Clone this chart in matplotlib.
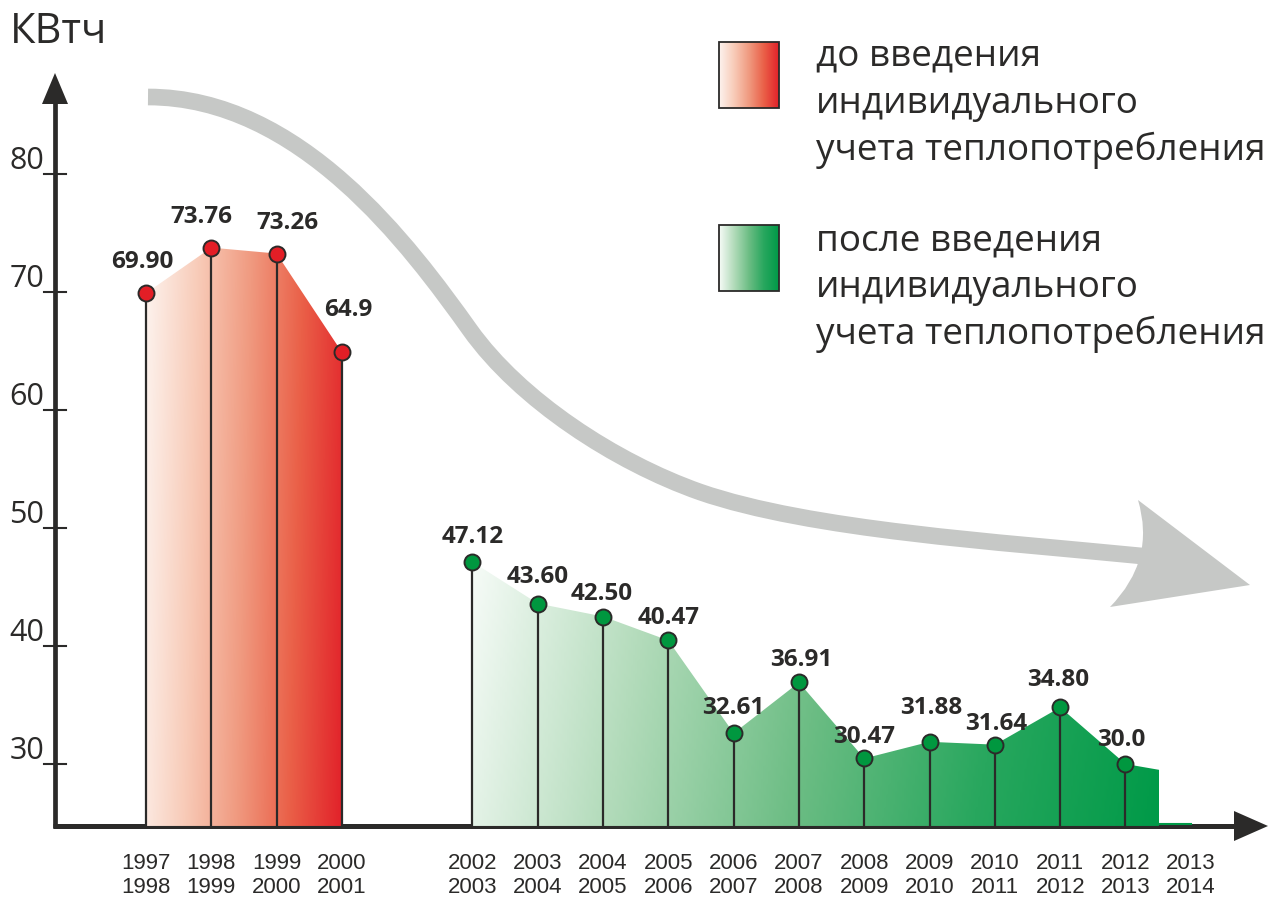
import numpy as np
import matplotlib
matplotlib.use("Agg")
import matplotlib.pyplot as plt
from matplotlib.colors import LinearSegmentedColormap
from matplotlib.path import Path
from matplotlib.patches import PathPatch, Polygon, Rectangle

plt.rcParams["font.family"] = ["Open Sans", "DejaVu Sans"]

# данные
before_seasons = ["1997\n1998", "1998\n1999", "1999\n2000", "2000\n2001"]
before_values = [69.90, 73.76, 73.26, 64.9]
before_labels = ["69.90", "73.76", "73.26", "64.9"]

after_seasons = ["2002\n2003", "2003\n2004", "2004\n2005", "2005\n2006",
                 "2006\n2007", "2007\n2008", "2008\n2009", "2009\n2010",
                 "2010\n2011", "2011\n2012", "2012\n2013", "2013\n2014"]
after_values = [47.12, 43.60, 42.50, 40.47, 32.61, 36.91, 30.47, 31.88,
                31.64, 34.80, 30.0]
after_labels = ["47.12", "43.60", "42.50", "40.47", "32.61", "36.91",
                "30.47", "31.88", "31.64", "34.80", "30.0"]
tail_value = 29.5  # неполный сезон 2013/2014 (только заливка)

y_ticks = [30, 40, 50, 60, 70, 80]
base = 24.75

# сдвиги подписей значений (пиксели)
before_offsets = [(-4, 25), (-10, 25), (11, 25), (6, 36)]
after_offsets = [(0, 19), (0, 21), (-1, 17), (0, 16), (0, 19), (2, 16),
                 (0, 15), (2, 28), (1, 15), (-2, 21), (-4, 18)]

W, H = 1268, 898
fig = plt.figure(figsize=(W / 100, H / 100), dpi=100)

# фон с декоративными элементами в пикселях
deco = fig.add_axes([0, 0, 1, 1])
deco.set_xlim(0, W)
deco.set_ylim(H, 0)
deco.axis("off")

# оси данных
x0, dx = 146, 65.3
y30, dy = 764, 11.8
ax = fig.add_axes([0, 0, 1, 1])
ax.set_xlim(-x0 / dx, (W - x0) / dx)
ax.set_ylim(30 - (H - y30) / dy, 30 + y30 / dy)
ax.axis("off")
ax.patch.set_alpha(0)

dark = "#2b2a29"
gray = "#c6c8c6"

# серая стрелка
band = Path([(148, 97), (300, 97), (410, 246), (470, 330),
             (520, 400), (615, 462), (700, 492),
             (810, 530), (1000, 542), (1142, 556)],
            [Path.MOVETO, Path.CURVE4, Path.CURVE4, Path.CURVE4,
             Path.CURVE4, Path.CURVE4, Path.CURVE4,
             Path.CURVE4, Path.CURVE4, Path.CURVE4])
deco.add_patch(PathPatch(band, facecolor="none", edgecolor=gray, lw=12,
                         capstyle="butt"))
head = Path([(1138, 500), (1250, 585), (1110, 607), (1156, 560), (1138, 500)],
            [Path.MOVETO, Path.LINETO, Path.LINETO, Path.CURVE3, Path.CURVE3])
deco.add_patch(PathPatch(head, facecolor=gray, edgecolor="none"))

red_cmap = LinearSegmentedColormap.from_list(
    "red", ["#fdf3ee", "#f8cbb8", "#f09a80", "#ea6048", "#e2222a"])
green_cmap = LinearSegmentedColormap.from_list(
    "green", ["#f6fbf7", "#b2dbba", "#6cbd84", "#28a75e", "#009a48"])


def gradient_fill(axis, xs, ys, cmap, top):
    verts = [(xs[0], base)] + list(zip(xs, ys)) + [(xs[-1], base)]
    poly = Polygon(verts, closed=True, facecolor="none", edgecolor="none")
    axis.add_patch(poly)
    gx, gy = np.meshgrid(np.linspace(0, 1, 300), np.linspace(0, 1, 100))
    z = np.clip(gx * 0.93 + (1 - gy) * 0.07, 0, 1)
    im = axis.imshow(z, extent=[xs[0], xs[-1], base, top], origin="lower",
                     cmap=cmap, aspect="auto", interpolation="bilinear",
                     zorder=1)
    im.set_clip_path(poly)


bx = np.arange(len(before_seasons))
ax_x = np.arange(len(after_seasons)) + len(before_seasons) + 1
gx_fill = list(ax_x[:len(after_values)]) + [ax_x[len(after_values) - 1] + 0.52]
gy_fill = list(after_values) + [tail_value]

gradient_fill(ax, list(bx), before_values, red_cmap, max(before_values))
gradient_fill(ax, gx_fill, gy_fill, green_cmap, max(after_values))
ax.plot([gx_fill[-1], ax_x[-1]], [base + 0.2, base + 0.2], color="#009a48",
        lw=1.5, zorder=1)

# стебли и маркеры
for xs, vals, col in [(bx, before_values, "#e31e26"),
                      (ax_x[:len(after_values)], after_values, "#00973f")]:
    ax.vlines(xs, base, vals, color=dark, lw=1.6, zorder=2)
    ax.plot(xs, vals, "o", ms=11.5, mfc=col, mec=dark, mew=1.4, zorder=4)

for xs, vals, labs, offs in [(bx, before_values, before_labels, before_offsets),
                             (ax_x, after_values, after_labels, after_offsets)]:
    for x, v, lab, (ox, oy) in zip(xs, vals, labs, offs):
        ax.annotate(lab, (x, v), xytext=(ox, oy), textcoords="offset pixels",
                    ha="center", va="baseline", fontsize=17.5,
                    fontweight="bold", color=dark, zorder=5)

# подписи сезонов
for x, s in zip(list(bx) + list(ax_x), before_seasons + after_seasons):
    a, b = s.split("\n")
    ax.text(x, 30 - (869 - y30) / dy, a, ha="center", va="baseline",
            fontsize=16, family=["Liberation Sans"], color=dark)
    ax.text(x, 30 - (893 - y30) / dy, b, ha="center", va="baseline",
            fontsize=16, family=["Liberation Sans"], color=dark)

# оси со стрелками
deco.plot([55, 55], [828, 100], color=dark, lw=3.4, solid_capstyle="butt",
          zorder=3)
deco.add_patch(Polygon([(55, 73), (42, 104), (68, 104)], closed=True,
                       facecolor=dark, edgecolor="none", zorder=3))
deco.plot([53, 1240], [826, 826], color=dark, lw=3.6, solid_capstyle="butt",
          zorder=3)
deco.add_patch(Polygon([(1268, 826), (1234, 811), (1234, 841)], closed=True,
                       facecolor=dark, edgecolor="none", zorder=3))

ya = (55 - x0) / dx
for t in y_ticks:
    ax.plot([ya - 0.17, ya + 0.17], [t, t], color=dark, lw=1.5, zorder=3)
    ax.annotate(str(t), (ya, t), xytext=(-11, 5), textcoords="offset pixels",
                ha="right", va="baseline", fontsize=22, color=dark)

deco.text(10, 43, "КВтч", fontsize=30, color=dark, va="baseline", ha="left")

# легенда
for y_top, cmap in [(42, red_cmap), (225, green_cmap)]:
    g = np.linspace(0, 1, 200)[None, :] * np.ones((50, 1))
    deco.imshow(g, extent=[719, 779, y_top + 66, y_top], cmap=cmap,
                aspect="auto", zorder=2)
    deco.add_patch(Rectangle((719, y_top), 60, 66, facecolor="none",
                             edgecolor=dark, lw=1.3, zorder=3))

legend_lines = [("до введения", 65), ("индивидуального", 113),
                ("учета теплопотребления", 160),
                ("после введения", 250), ("индивидуального", 297),
                ("учета теплопотребления", 344)]
probe = deco.text(0, 0, "учета теплопотребления", fontsize=28)
fig.canvas.draw()
wpx = probe.get_window_extent().width
probe.remove()
fs = 28 * 449 / wpx
for txt, yb in legend_lines:
    deco.text(816, yb, txt, fontsize=fs, color=dark, va="baseline", ha="left")

fig.savefig("out.png", dpi=100)
